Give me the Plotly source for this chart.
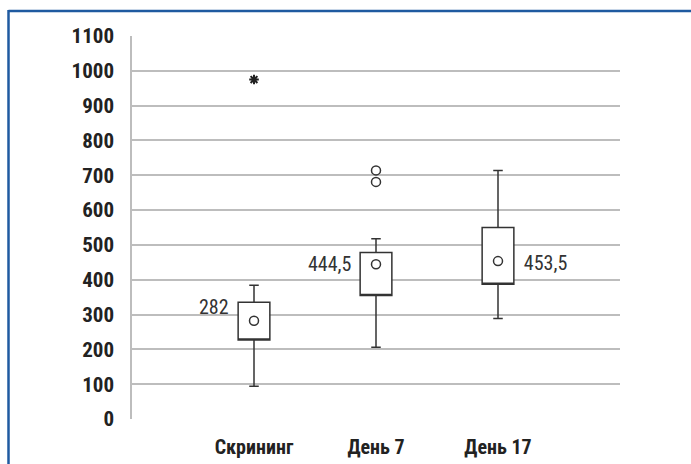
import plotly.graph_objects as go

categories = ["Скрининг", "День 7", "День 17"]
x_pos = [1, 2, 3]
q1 = [227, 355, 387]
q3 = [335, 478, 550]
lower = [94, 206, 289]
upper = [384, 518, 714]
center_vals = [282, 444.5, 453.5]
center_labels = ["282", "444,5", "453,5"]
circle_outliers_x = [2, 2]
circle_outliers_y = [714, 681]
star_outliers_x = [1]
star_outliers_y = [975]

FONT = "Roboto, Liberation Sans Narrow, sans-serif"
BOX_COLOR = "#333333"

fig = go.Figure()

fig.add_trace(go.Box(
    x=x_pos, q1=q1, median=q1, q3=q3,
    lowerfence=lower, upperfence=upper,
    width=0.26, whiskerwidth=0.3,
    fillcolor="white", line=dict(color=BOX_COLOR, width=1.5),
    boxpoints=False, showlegend=False, hoverinfo="skip",
))

fig.add_trace(go.Scatter(
    x=x_pos, y=center_vals, mode="markers",
    marker=dict(symbol="circle-open", size=9, color=BOX_COLOR, line=dict(width=1.5)),
    showlegend=False, hoverinfo="skip",
))

fig.add_trace(go.Scatter(
    x=circle_outliers_x, y=circle_outliers_y, mode="markers",
    marker=dict(symbol="circle-open", size=9, color=BOX_COLOR, line=dict(width=1.5)),
    showlegend=False, hoverinfo="skip",
))

fig.add_trace(go.Scatter(
    x=star_outliers_x, y=star_outliers_y, mode="markers",
    marker=dict(symbol="asterisk-open", size=8, color="#222222", line=dict(width=2, color="#222222")),
    showlegend=False, hoverinfo="skip",
))

label_x = [x_pos[0] - 0.33, x_pos[1] - 0.38, x_pos[2] + 0.39]
label_y = [q3[0] - 18, center_vals[1] - 6, center_vals[2] - 12]
fig.add_trace(go.Scatter(
    x=label_x, y=label_y, mode="text", text=center_labels,
    textfont=dict(family=FONT, size=20, color="#333333"),
    textposition="middle center",
    showlegend=False, hoverinfo="skip",
))

fig.update_layout(
    width=691, height=464,
    margin=dict(l=132, r=71, t=36, b=45),
    paper_bgcolor="white", plot_bgcolor="white",
    xaxis=dict(
        range=[0, 4], tickvals=x_pos, ticktext=categories,
        showgrid=False, zeroline=False, showline=False, ticks="",
        tickfont=dict(family=FONT, size=20, color="#222222", weight="bold"),
        ticklabelstandoff=14, fixedrange=True, automargin=False,
    ),
    yaxis=dict(
        range=[0, 1100], tickvals=list(range(0, 1101, 100)),
        showgrid=True, gridcolor="#bdbdbd", gridwidth=1.5,
        zeroline=False, showline=True, linecolor="#bdbdbd", linewidth=1.5,
        ticks="", tickfont=dict(family=FONT, size=21, color="#222222", weight="bold"),
        ticklabelstandoff=12, fixedrange=True, automargin=False,
    ),
    shapes=[
        dict(type="line", xref="paper", yref="paper",
             x0=(8.5 - 132) / 488, x1=(700 - 132) / 488,
             y0=(419 - 11) / 383, y1=(419 - 11) / 383,
             line=dict(color="#1f5aa0", width=2.5)),
        dict(type="line", xref="paper", yref="paper",
             x0=(8.5 - 132) / 488, x1=(8.5 - 132) / 488,
             y0=(419 - 10) / 383, y1=(419 - 470) / 383,
             line=dict(color="#1f5aa0", width=2.5)),
    ],
)

post = """
document.body.style.margin = '0px';
document.querySelectorAll('svg text').forEach(function(t){ t.style.fontStretch = '75%'; });
"""
fig.write_html("out.html", post_script=post, config={"displayModeBar": False})
